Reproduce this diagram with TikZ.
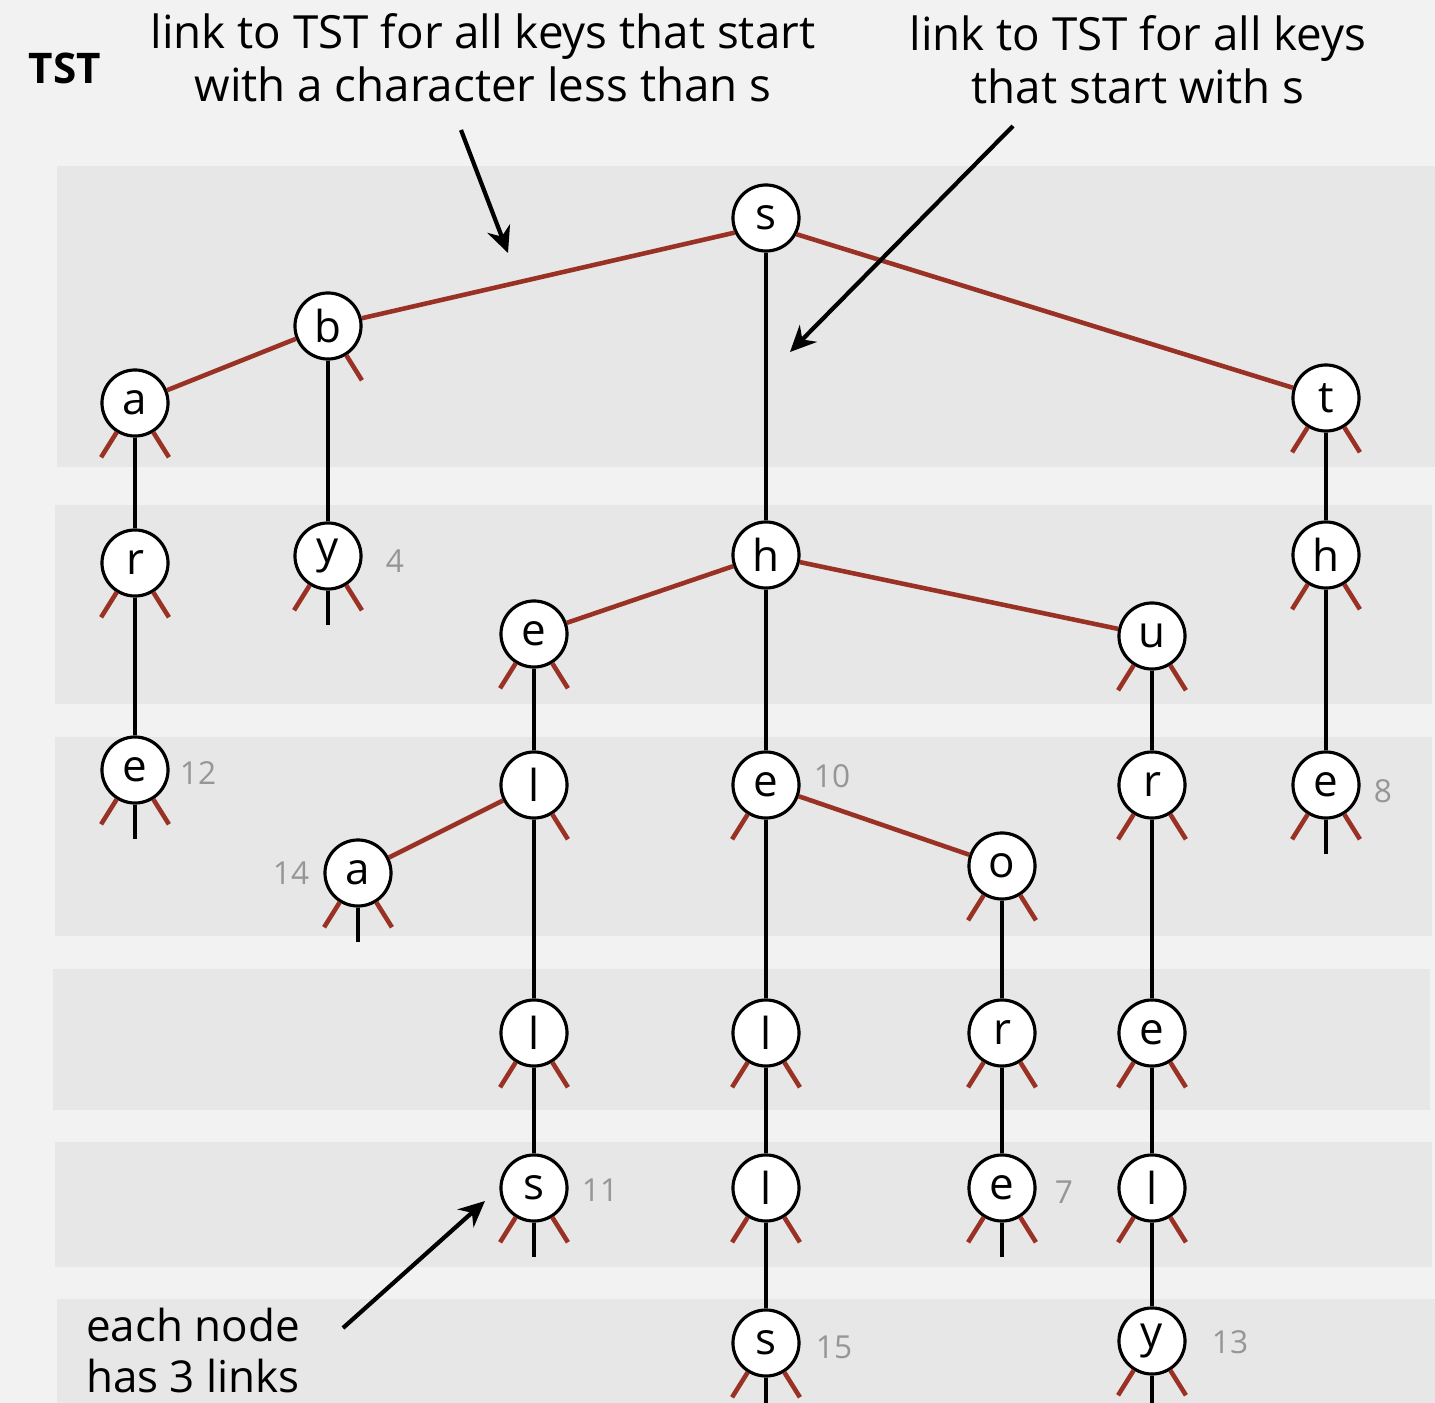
\documentclass[tikz,border=0pt]{standalone}
\usepackage{fontspec}
\setmainfont{Open Sans}
\usetikzlibrary{arrows.meta}
\definecolor{linkred}{RGB}{153,50,36}
\definecolor{bandgray}{RGB}{231,231,231}
\definecolor{backgray}{RGB}{242,242,242}
\definecolor{valgray}{RGB}{150,150,150}
\tikzset{
  tnode/.style={circle, draw=black, line width=0.9pt, fill=white, minimum size=0.66cm, inner sep=0pt, font=\fontsize{12.5}{14}\selectfont},
  redlink/.style={draw=linkred, line width=1.3pt},
  midlink/.style={draw=black, line width=1.25pt},
  val/.style={text=valgray, font=\fontsize{9}{10}\selectfont},
  band/.style={fill=bandgray, draw=none},
  note/.style={align=center, font=\fontsize{13}{15}\selectfont},
  pointer/.style={-{Stealth[length=0.26cm, width=0.24cm]}, line width=1.2pt}
}
% null links
\def\lstub#1{\draw[redlink] (#1.238) -- ([shift={(238:0.64cm)}]#1.center);}
\def\rstub#1{\draw[redlink] (#1.302) -- ([shift={(302:0.64cm)}]#1.center);}
\def\mstub#1{\draw[midlink] (#1.south) -- ([yshift=-0.34cm]#1.south);}

\begin{document}
\begin{tikzpicture}[x=0.01cm, y=-0.01cm]
	%%%%% START %%%%%
	\useasboundingbox (0,0) rectangle (1435,1403);
	\fill[backgray] (0,0) rectangle (1435,1403);
	
	\fill[band] (57,166) rectangle (1435,467);
	\fill[band] (55,505) rectangle (1432,704);
	\fill[band] (55,737) rectangle (1432,936);
	\fill[band] (53,969) rectangle (1430,1110);
	\fill[band] (55,1142) rectangle (1432,1267);
	\fill[band] (57,1299) rectangle (1435,1403);
	
	\node[font=\fontsize{12}{14}\selectfont\bfseries] (title) at (65,68) {TST};
	\node[note] (lessnote) at (483,58) {link to TST for all keys that start\\with a character less than s};
	\node[note] (eqnote) at (1138,60) {link to TST for all keys\\that start with s};
	\node[note, anchor=south, inner sep=0pt, font=\fontsize{12.5}{14.5}\selectfont] (eachnote) at (193,1394) {each node\\has 3 links};
	
	% nodes, named after the key prefix
	\node[tnode] (s) at (766,218) {s};
	\node[tnode] (b) at (328,326) {b};
	\node[tnode] (a) at (135,403) {a};
	\node[tnode] (t) at (1326,398) {t};
	\node[tnode] (ar) at (135,563) {r};
	\node[tnode] (by) at (328,556) {y};
	\node[tnode] (sh) at (766,555) {h};
	\node[tnode] (th) at (1326,555) {h};
	\node[tnode] (se) at (534,634) {e};
	\node[tnode] (su) at (1152,636) {u};
	\node[tnode] (are) at (135,770) {e};
	\node[tnode] (sel) at (534,785) {l};
	\node[tnode] (she) at (766,785) {e};
	\node[tnode] (sur) at (1152,785) {r};
	\node[tnode] (the) at (1326,785) {e};
	\node[tnode] (sea) at (358,873) {a};
	\node[tnode] (sho) at (1002,866) {o};
	\node[tnode] (sell) at (534,1033) {l};
	\node[tnode] (shel) at (766,1033) {l};
	\node[tnode] (shor) at (1002,1033) {r};
	\node[tnode] (sure) at (1152,1033) {e};
	\node[tnode] (sells) at (534,1188) {s};
	\node[tnode] (shell) at (766,1188) {l};
	\node[tnode] (shore) at (1002,1188) {e};
	\node[tnode] (surel) at (1152,1188) {l};
	\node[tnode] (shells) at (766,1343) {s};
	\node[tnode] (surely) at (1152,1341) {y};
	
	% values
	\node[val] (v4) at (395,561) {4};
	\node[val] (v12) at (198,773) {12};
	\node[val] (v10) at (832,776) {10};
	\node[val] (v8) at (1383,791) {8};
	\node[val] (v14) at (291,873) {14};
	\node[val] (v11) at (600,1190) {11};
	\node[val] (v7) at (1064,1192) {7};
	\node[val] (v15) at (834,1347) {15};
	\node[val] (v13) at (1230,1342) {13};
	
	% left and right links
	\draw[redlink] (s.205) -- (b);
	\draw[redlink] (s.-28) -- (t);
	\draw[redlink] (b) -- (a);
	\draw[redlink] (sh) -- (se);
	\draw[redlink] (sh) -- (su);
	\draw[redlink] (sel) -- (sea);
	\draw[redlink] (she) -- (sho);
	
	% middle links
	\foreach \u/\v in {s/sh, b/by, a/ar, ar/are, t/th, th/the, sh/she, se/sel, sel/sell, sell/sells,
		she/shel, shel/shell, shell/shells, sho/shor, shor/shore, su/sur, sur/sure, sure/surel, surel/surely}
		{\draw[midlink] (\u) -- (\v);}
	
	% null links
	\foreach \n in {a, t, ar, by, th, se, su, are, she, sur, the, sea, sho, sell, shel, shor, sure,
		sells, shell, shore, surel, shells, surely}
		{\lstub{\n}}
	\foreach \n in {b, a, t, ar, by, th, se, su, are, sel, sur, the, sea, sho, sell, shel, shor, sure,
		sells, shell, shore, surel, shells, surely}
		{\rstub{\n}}
	\foreach \n in {by, are, the, sea, sells, shells, shore, surely}
		{\mstub{\n}}
	
	% pointers
	\coordinate (lesstail) at (461,130);
	\coordinate (lesshead) at (508,253);
	\coordinate (eqtail) at (1013,126);
	\coordinate (eqhead) at (790,352);
	\coordinate (eachtail) at (343,1328);
	\coordinate (eachhead) at (485,1201);
	\draw[pointer] (lesstail) -- (lesshead);
	\draw[pointer] (eqtail) -- (eqhead);
	\draw[pointer] (eachtail) -- (eachhead);
	%%%%% END %%%%%
\end{tikzpicture}
\end{document}
